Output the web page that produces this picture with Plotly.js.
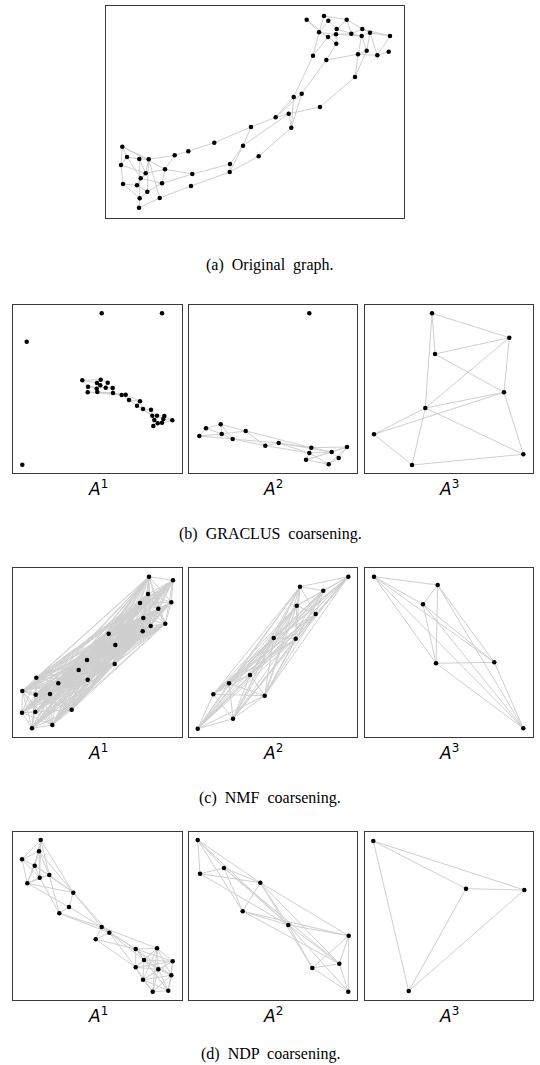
<!DOCTYPE html>
<html>
<head>
<meta charset="utf-8">
<script src="https://cdn.plot.ly/plotly-3.0.1.min.js"></script>
<style>html,body{margin:0;padding:0;background:#fff;}#chart{width:540px;height:1065px;}</style>
</head>
<body>
<div id="chart"></div>
<script>
// ---------- Panel (a): original graph (node positions) ----------
const aX = [122.3,127,139.3,148.7,121,165,145.7,140.7,123,137,162,147.3,139.7,159.7,139,174.7,188.3,192.3,191,214.3,230,229.7,243,251,
            258.7,275.7,288.7,291.3,293.7,301.7,320,313,326.3,355,306.7,324,328.3,319,328,336.7,336,336.3,346.7,351.3,362.3,361.7,370,390,358,366.7,377.3,388.7];
const aY = [146.7,157,159,159.3,165,169.3,173.3,178.3,184,185.3,183.3,191.7,198.3,198,207.7,155.3,151.3,174,186,142.7,164,172,145.7,127,
            156.3,117.3,113.7,127.7,97,93.7,107,55.7,60,77,19.7,16,20.7,32.3,37,29,34.3,43.7,19.7,33.7,29,36,32.7,36,54.3,50.7,55.3,51.7];
const aEdges = [[0,1],[0,4],[0,3],[0,5],[1,2],[1,7],[1,4],[2,3],[2,6],[2,12],[3,15],[3,11],[3,13],[3,6],[4,6],[4,8],[5,15],[5,6],[5,17],[5,10],
  [6,7],[6,9],[7,10],[7,9],[8,9],[8,12],[9,11],[10,11],[10,17],[11,12],[12,14],[13,14],[13,18],[15,16],[16,19],[17,20],[18,21],[19,23],
  [20,22],[21,22],[20,21],[22,23],[21,24],[23,25],[22,26],[24,27],[25,26],[25,28],[25,29],[26,27],[26,30],[27,28],[27,29],[28,31],[29,32],
  [30,33],[31,37],[31,38],[32,41],[32,48],[33,48],[33,49],[34,37],[34,38],[35,42],[35,37],[36,37],[36,39],[37,38],[37,40],[38,40],[38,41],
  [39,42],[39,43],[40,43],[40,45],[41,40],[42,44],[42,43],[43,44],[43,45],[44,46],[45,46],[45,48],[45,49],[46,47],[46,49],[47,50],[48,50],
  [48,49],[50,51],[44,47],[46,50]];

// ---------- Row (b): GRACLUS ----------
const b1X = [82.3,100.7,97,107.7,88,100.3,96.7,105.7,112.7,87.7,97.3,113,121.7,125.7,129,140,137,143,151,152.3,157,164.3,172.3,154.3,163.3,157.7,162,153.3,
             101.7,162,26.7,22.3];
const b1Y = [380.3,379.7,383,382.7,386.7,385.3,388.7,387.7,388,392.3,392,393,395,394.7,400,401.3,405.7,409,409.7,415.7,415.7,416,420.3,420,419,423.3,422.7,426,
             313.3,313.3,341.7,464.7];
const b1Edges = [[0,2],[0,1],[0,4],[4,9],[4,6],[9,10],[9,11],[1,3],[2,5],[5,6],[6,10],[3,7],[7,8],[8,11],[10,11],[11,12],[12,13],[13,14],[12,14],
  [14,15],[14,16],[15,16],[15,17],[16,17],[17,18],[16,19],[18,19],[18,20],[19,23],[20,21],[21,22],[20,24],[23,25],[24,26],[25,27],[22,26],
  [22,24],[23,27],[9,12],[4,8],[10,13],[13,15],[17,19],[19,25]];

const b2X = [206,220.7,199.3,221.7,245.7,232.7,265.3,278.7,311.3,309.3,306,331.7,347,338.7,328.7,309.3];
const b2Y = [428.3,424.3,436,434,431,439,445.7,443,447.7,453,459.7,452,447,458,464.3,313.3];
const b2Edges = [[0,1],[0,2],[0,3],[1,3],[1,4],[2,3],[2,5],[3,5],[1,5],[3,4],[4,6],[4,8],[5,6],[5,7],[6,7],[6,9],[7,8],[7,9],[8,11],[8,12],
  [9,11],[9,14],[10,11],[10,14],[11,12],[11,13],[12,13],[12,14],[13,14],[8,9],[9,10],[7,11],[10,12]];

const b3X = [432,509.3,435,504,425.3,374,523.3,412];
const b3Y = [313.3,337.7,354,392.3,408,434.3,454.3,465];
const b3Edges = [[0,1],[0,2],[0,4],[2,1],[2,3],[1,3],[1,4],[4,3],[5,3],[5,4],[5,7],[4,6],[3,6],[7,6],[7,4]];

// ---------- Row (c): NMF ----------
const c1X = [149,173,148,140,171.3,158.3,143.3,150.7,165.3,142.7,108.7,115.3,114.7,87,78.7,87.7,36.3,58.3,22.3,35.7,50,71.7,22,35.3,52.3,32];
const c1Y = [576.7,580.3,594,603,602.3,608.7,618,626,623.7,631.3,633.7,645,664,660,670,679.7,677.7,683.3,691,694.7,694,709.7,712.7,712,725,728.3];
const c1Edges = "all";

const c2X = [348.3,300,323.3,296.7,315.7,273.7,295.7,250,229,213.3,264.7,233,197.7];
const c2Y = [576.7,586.7,590.7,605.7,614,638,638.7,675,683.3,694.3,695.7,718.7,728.7];
const c2Edges = "all";

const c3X = [374,437.7,423,436,494.3,523.3];
const c3Y = [576.7,585,604.3,663.3,662.3,728.3];
const c3Edges = "all";

// ---------- Row (d): NDP ----------
const d1X = [40.7,39,22,34.7,39.7,49.3,27.3,73.3,69,59.3,101.7,109.3,95.7,135.7,157,144,172.7,135.7,158.3,171.3,143,152.7,168.3];
const d1Y = [840,851.3,859.3,865.7,877.7,875,883.3,892.7,907,913.3,927,932.7,939.3,949,948.3,960,961.3,967.3,969.3,975.3,979.7,991.7,990.7];
const d1Edges = [[0,1],[0,2],[0,3],[0,4],[0,5],[1,2],[1,3],[1,4],[1,5],[1,6],[2,3],[2,6],[2,4],[3,4],[3,5],[3,6],[4,5],[4,6],[5,6],
  [0,7],[1,7],[3,7],[5,7],[4,9],[5,9],[6,8],[6,7],[7,8],[8,9],[7,10],[7,11],[8,10],[9,10],[9,11],[10,11],[10,12],[11,12],[12,13],[10,13],
  [11,13],[11,15],[12,17],[10,14],[11,17],
  [13,14],[13,15],[13,16],[13,17],[13,18],[13,19],[14,15],[14,16],[14,17],[14,18],[14,19],[14,20],[14,21],[15,16],[15,17],[15,18],[15,19],
  [15,20],[15,22],[16,18],[16,19],[16,22],[16,17],[17,18],[17,20],[17,21],[18,19],[18,20],[18,21],[18,22],[19,20],[19,21],[19,22],[20,21],
  [20,22],[21,22],[13,22],[16,20]];

const d2X = [197.7,224,200,260.3,242.7,288.3,348.7,339.3,312.3,348.3];
const d2Y = [840,868,873.7,882.7,911.3,925,935.7,963.7,968,991.7];
const d2Edges = [[0,2],[0,1],[0,3],[0,4],[0,5],[1,2],[1,3],[1,4],[1,5],[2,3],[2,5],[3,4],[3,5],[3,6],[3,8],[4,5],[4,6],[4,7],[5,6],[5,7],
  [5,8],[5,9],[6,7],[6,8],[6,9],[7,8],[7,9],[8,9],[3,7],[1,7]];

const d3X = [373.3,466,524.3,408.7];
const d3Y = [841,888.7,890,991];
const d3Edges = [[0,1],[0,2],[0,3],[1,2],[1,3],[2,3]];

// ---------- Panel boxes (pixel frames) and labels ----------
const panelBoxes = [
  [106,404,5.5,218],
  [13.3,181.7,304.7,472.7],[189.3,356.7,304.7,472.7],[365,532.7,304.7,472.7],
  [13.3,181.7,568.3,736.7],[189.3,356.7,568.3,736.7],[365,532.7,568.3,736.7],
  [13.3,181.7,831.7,1000],[189.3,356.7,831.7,1000],[365,532.7,831.7,1000]
];
const panelData = [
  [aX,aY,aEdges],
  [b1X,b1Y,b1Edges],[b2X,b2Y,b2Edges],[b3X,b3Y,b3Edges],
  [c1X,c1Y,c1Edges],[c2X,c2Y,c2Edges],[c3X,c3Y,c3Edges],
  [d1X,d1Y,d1Edges],[d2X,d2Y,d2Edges],[d3X,d3Y,d3Edges]
];
const subLabels = ["<i>A</i><sup>1</sup>","<i>A</i><sup>2</sup>","<i>A</i><sup>3</sup>"];
const captions = ["(a)  Original  graph.","(b)  GRACLUS  coarsening.","(c)  NMF  coarsening.","(d)  NDP  coarsening."];
const captionY = [265,534,798,1054];

const W = 540, H = 1065;
const traces = [];
const layout = {
  width: W, height: H,
  margin: {l:0,r:0,t:0,b:0},
  paper_bgcolor: '#fff', plot_bgcolor: '#fff',
  showlegend: false,
  annotations: []
};

panelData.forEach((pd, i) => {
  const [xs, ys, edges] = pd;
  const box = panelBoxes[i];
  const n = i + 1;
  const xa = n === 1 ? 'x' : 'x' + n;
  const ya = n === 1 ? 'y' : 'y' + n;
  let pairs = edges;
  if (edges === "all") {
    pairs = [];
    for (let p = 0; p < xs.length; p++) for (let q = p + 1; q < xs.length; q++) pairs.push([p, q]);
  }
  const ex = [], ey = [];
  pairs.forEach(([p, q]) => { ex.push(xs[p], xs[q], null); ey.push(ys[p], ys[q], null); });
  traces.push({x: ex, y: ey, xaxis: xa, yaxis: ya, mode: 'lines', type: 'scatter',
               line: {color: '#cfcfcf', width: 1}, hoverinfo: 'skip'});
  traces.push({x: xs, y: ys, xaxis: xa, yaxis: ya, mode: 'markers', type: 'scatter',
               marker: {color: '#000', size: 4.5}, cliponaxis: false, hoverinfo: 'skip'});
  const axCommon = {showgrid: false, zeroline: false, showticklabels: false, ticks: '',
                    showline: true, mirror: true, linecolor: '#3a3a3a', linewidth: 1, fixedrange: true};
  layout[n === 1 ? 'xaxis' : 'xaxis' + n] = Object.assign({}, axCommon, {
    domain: [box[0] / W, box[1] / W], range: [box[0], box[1]], anchor: ya});
  layout[n === 1 ? 'yaxis' : 'yaxis' + n] = Object.assign({}, axCommon, {
    domain: [1 - box[3] / H, 1 - box[2] / H], range: [box[3], box[2]], anchor: xa});
  if (i > 0) {
    layout.annotations.push({
      text: subLabels[(i - 1) % 3], xref: 'paper', yref: 'paper',
      x: (box[0] + box[1]) / 2 / W, y: 1 - (box[3] + 15) / H, xanchor: 'center', yanchor: 'middle',
      showarrow: false, font: {family: 'DejaVu Sans', size: 17, color: '#000'}
    });
  }
});

captions.forEach((c, k) => {
  layout.annotations.push({
    text: c, xref: 'paper', yref: 'paper', x: 0.5, y: 1 - captionY[k] / H,
    xanchor: 'center', yanchor: 'middle', showarrow: false,
    font: {family: 'Liberation Serif', size: 16, color: '#000'}
  });
});

Plotly.newPlot('chart', traces, layout, {staticPlot: true, displayModeBar: false});
</script>
</body>
</html>
